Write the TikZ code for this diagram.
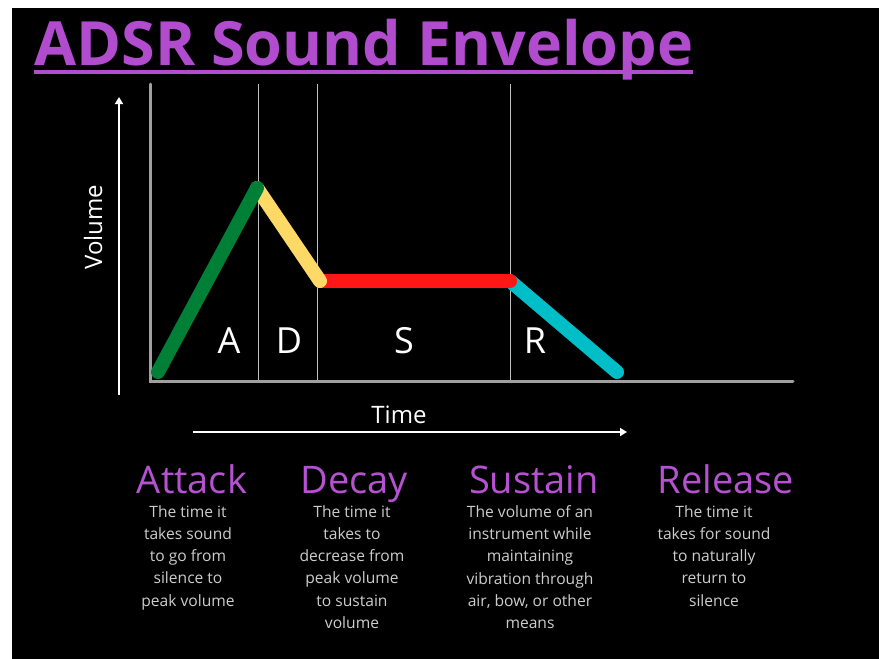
\documentclass[tikz,border=0pt]{standalone}
\usepackage{fontspec}
\setmainfont{Open Sans}
\usetikzlibrary{arrows.meta}
\definecolor{titlepurple}{RGB}{176,76,205}
\definecolor{headpurple}{RGB}{182,82,210}
\definecolor{desctext}{RGB}{205,205,205}
\definecolor{axisgray}{RGB}{160,160,160}
\definecolor{gridgray}{RGB}{190,190,190}
\definecolor{attackgreen}{RGB}{0,128,55}
\definecolor{decayyellow}{RGB}{255,217,102}
\definecolor{sustainred}{RGB}{255,22,22}
\definecolor{releasecyan}{RGB}{0,190,200}
\tikzset{
  axisline/.style={draw=axisgray, line width=3pt},
  gridline/.style={draw=gridgray, line width=1pt},
  envseg/.style={line width=14pt, line cap=round},
  whitearrow/.style={draw=white, line width=2pt, -{Triangle[length=7pt,width=8pt]}},
  letter/.style={text=white, font=\fontsize{36}{40}\selectfont, anchor=base, inner sep=0pt},
  axislabel/.style={text=white, font=\fontsize{24}{28}\selectfont, inner sep=0pt},
  heading/.style={text=headpurple, font=\fontsize{38}{44}\selectfont, anchor=base, inner sep=0pt},
  desc/.style={text=desctext, font=\fontsize{15.6}{22.3}\selectfont, align=center, anchor=north, inner sep=0pt},
}
\begin{document}
\begin{tikzpicture}[x=1pt,y=-1pt]
\useasboundingbox (0,0) rectangle (879,659);
\fill[white] (0,0) rectangle (879,659);
\fill[black] (12,8) rectangle (879,659);
% title
\node[anchor=base west, inner sep=0pt, text=titlepurple, font=\fontsize{61}{70}\selectfont\bfseries] (title) at (34,65) {ADSR Sound Envelope};
\draw[titlepurple, line width=4pt] (title.base west) ++(0,7) coordinate (ul1) -- (ul1 -| title.base east);
% axes
\coordinate (origin) at (150,381);
\coordinate (ytop) at (150,84);
\coordinate (xend) at (793,381);
\coordinate (g1t) at (258,84); \coordinate (g1b) at (258,381);
\coordinate (g2t) at (317,84); \coordinate (g2b) at (317,381);
\coordinate (g3t) at (510,84); \coordinate (g3b) at (510,381);
\draw[gridline] (g1t) -- (g1b);
\draw[gridline] (g2t) -- (g2b);
\draw[gridline] (g3t) -- (g3b);
\draw[axisline, line cap=round] (ytop) -- (origin) -- (xend);
% envelope
\coordinate (p0) at (158,372);
\coordinate (p1) at (257,188);
\coordinate (p2) at (320,281);
\coordinate (p3) at (510,281);
\coordinate (p4) at (617,372);
\draw[envseg, releasecyan] (p3) -- (p4);
\draw[envseg, sustainred] (p2) -- (p3);
\draw[envseg, decayyellow] (p1) -- (p2);
\draw[envseg, attackgreen] (p0) -- (p1);
% letters
\node[letter] (lA) at (229,353) {A};
\node[letter] (lD) at (289,353) {D};
\node[letter] (lS) at (404,353) {S};
\node[letter] (lR) at (535,353) {R};
% axis arrows and labels
\coordinate (va0) at (119,395);
\coordinate (va1) at (119,97);
\draw[whitearrow] (va0) -- (va1);
\node[axislabel, rotate=90] (vol) at (93,227) {Volume};
\coordinate (ta0) at (193,432);
\coordinate (ta1) at (627,432);
\draw[whitearrow] (ta0) -- (ta1);
\node[axislabel, anchor=base] (time) at (399,423) {Time};
% headings
\node[heading] (hA) at (192,493) {Attack};
\node[heading] (hD) at (354,493) {Decay};
\node[heading] (hS) at (534,493) {Sustain};
\node[heading] (hR) at (726,493) {Release};
% descriptions
\node[desc] (dA) at (188,505) {The time it\\takes sound\\to go from\\silence to\\peak volume};
\node[desc] (dD) at (352,505) {The time it\\takes to\\decrease from\\peak volume\\to sustain\\volume};
\node[desc] (dS) at (530,505) {The volume of an\\instrument while\\maintaining\\vibration through\\air, bow, or other\\means};
\node[desc] (dR) at (714,505) {The time it\\takes for sound\\to naturally\\return to\\silence};
\end{tikzpicture}
\end{document}
